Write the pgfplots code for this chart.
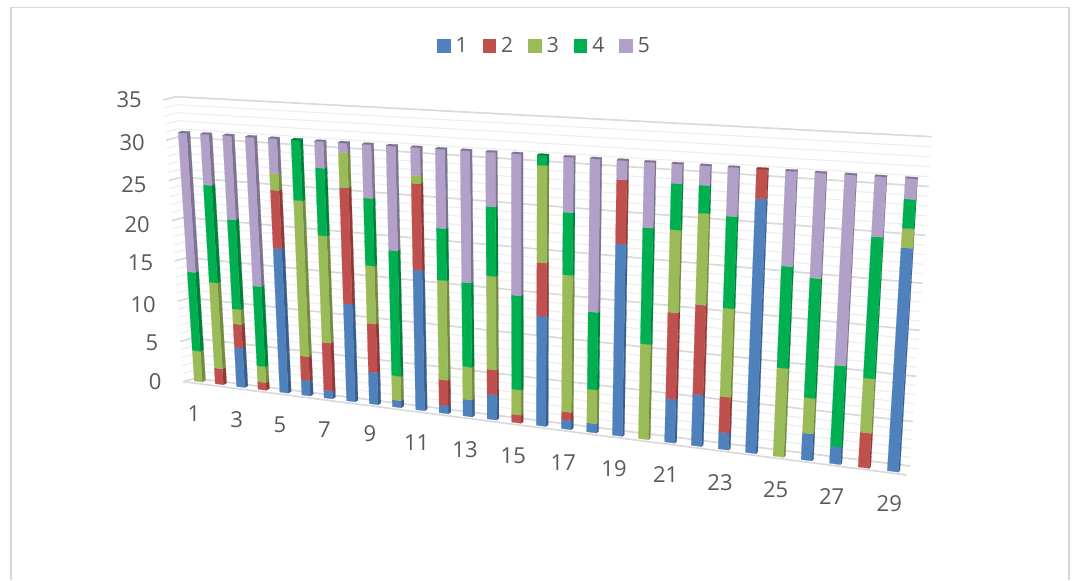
\documentclass[border=0pt]{standalone}
\usepackage{fontspec}
\setmainfont{Open Sans}
\usepackage{pgfplots}
\usepackage{pgfplotstable}
\pgfplotsset{compat=1.18}

\definecolor{s1}{HTML}{4F81BD}\definecolor{d1}{HTML}{395E8C}
\definecolor{s2}{HTML}{C0504D}\definecolor{d2}{HTML}{8E3A38}
\definecolor{s3}{HTML}{9BBB59}\definecolor{d3}{HTML}{748C42}
\definecolor{s4}{HTML}{00B050}\definecolor{d4}{HTML}{00803A}
\definecolor{s5}{HTML}{B1A0C7}\definecolor{d5}{HTML}{7F7391}
\definecolor{txt}{HTML}{595959}
\definecolor{grid}{HTML}{D9D9D9}
\definecolor{gridl}{HTML}{EDEDED}

% stacked values per category
\pgfplotstableread{
cat a b c d e
1 0 0 3.7 9.5 16.8
2 0 1.9 10.3 11.7 6.1
3 4.7 2.8 1.8 10.7 10
4 0 0.9 1.9 9.5 17.7
5 17 6.9 2 0 4.1
6 1.8 2.8 18.3 7.1 0
7 0.9 5.6 12.5 7.9 3.1
8 11.3 13.5 4.1 0 1.1
9 3.7 5.6 6.7 7.8 6.2
10 0.8 0 2.8 14.4 12
11 16 9.9 0.9 0 3.2
12 0.9 2.9 11.3 5.9 9
13 1.9 0 3.7 9.5 14.9
14 2.8 2.8 10.5 7.8 6.1
15 0 0.9 2.8 10.5 15.8
16 12.2 5.9 10.8 1.1 0
17 1 0.9 15.1 6.9 6.1
18 1 0 3.7 8.5 16.8
19 20.9 7 0 0 2.1
20 0 0 10.3 12.6 7.1
21 4.7 9.3 8.9 5 2.1
22 5.5 9.6 9.8 3 2.1
23 1.8 3.8 9.4 9.8 5.2
24 26.9 3.1 0 0 0
25 0 0 9.3 10.7 10
26 2.8 0 3.7 12.5 11
27 1.8 0 0 8.4 19.8
28 0 3.6 5.6 14.6 6.2
29 22.9 0 2 3 2.1
}\bardata

% picture position of a bar point: #1 category position, #2 stacked value
\newcommand\project[2]{%
  \pgfmathsetmacro\uu{(#1-1)/28}%
  \pgfmathsetmacro\ss{0.845*\uu/(1-0.155*\uu)}%
  \pgfmathsetmacro\ff{#2/30}%
  \pgfmathsetmacro\bx{194.3+693*\ss}%
  \pgfmathsetmacro\by{381+89.7*\ss}%
  \pgfmathsetmacro\tx{178.3+727*\ss}%
  \pgfmathsetmacro\ty{132.7+45.6*\ss}%
  \pgfmathsetmacro\px{\bx+(\tx-\bx)*\ff}%
  \pgfmathsetmacro\py{\by+(\ty-\by)*\ff}%
  \pgfmathsetmacro\ox{(3.3-1.8*\uu)+0.8*\uu*(-1)*\ff}%
  \pgfmathsetmacro\qx{\px+\ox}%
  \pgfmathsetmacro\qy{\py-1.7}%
}

% back wall gridline at value #1
\newcommand\gridline[2]{%
  \pgfmathsetmacro\gz{#1/35}%
  \pgfmathsetmacro\gf{\gz*0.9356/(1-0.0644*\gz)}%
  \pgfmathsetmacro\ax{183.3-20*\gz}\pgfmathsetmacro\ay{381.7-281.7*\gz}%
  \pgfmathsetmacro\bx{195-19*\gz}\pgfmathsetmacro\by{378.3-281.6*\gz}%
  \pgfmathsetmacro\cx{910+21.7*\gz}\pgfmathsetmacro\cy{466-329.3*\gf}%
  \edef\temp{\noexpand\addplot[#2,forget plot] coordinates {(\ax,\ay) (\bx,\by) (\cx,\cy)};}\temp
}

\begin{document}
\begin{tikzpicture}
\begin{axis}[
    scale only axis,
    width=1072pt, height=580pt,
    xmin=0, xmax=1072, ymin=0, ymax=580,
    y dir=reverse,
    hide axis,
    clip=false,
    legend columns=-1,
    legend style={at={(axis cs:544.5,46)}, anchor=center, draw=none, fill=none,
        font=\fontsize{21}{25}\selectfont, text=txt, inner sep=0pt,
        /tikz/every even column/.append style={column sep=13pt},
        /tikz/every odd column/.append style={column sep=3pt}},
    legend image code/.code={\fill[draw=none,#1] (0pt,-6.8pt) rectangle (13.5pt,6.8pt);},
]
% page extent
\addplot[draw=none, forget plot] coordinates {(0,0) (1072,580)};
% chart frame
\addplot[color=grid, line width=1.5pt, forget plot] coordinates {(11,580) (11,7.5) (1069,7.5) (1069,580)};

% gridlines
\pgfplotsforeachungrouped \z in {0,...,35}{\gridline{\z}{color=gridl, line width=1.1pt}}
\pgfplotsforeachungrouped \z in {0,5,...,35}{\gridline{\z}{color=grid, line width=1.6pt}}
\addplot[color=grid, line width=1.6pt, forget plot] coordinates {(183.3,381.7) (906.7,475)};

% bars
\pgfplotsforeachungrouped \r in {0,...,28}{%
  \pgfmathsetmacro\tl{\r+1}%
  \pgfmathsetmacro\tr{\r+1.38}%
  \def\zlow{0}%
  \pgfplotsforeachungrouped \c in {1,...,5}{%
    \pgfplotstablegetelem{\r}{[index]\c}\of\bardata
    \let\val\pgfplotsretval
    \ifdim\val pt>0pt
      \pgfmathsetmacro\zhigh{\zlow+\val}%
      \project{\tl}{\zlow}\let\ax\px\let\ay\py
      \project{\tr}{\zlow}\let\bbx\px\let\bby\py\let\bqx\qx\let\bqy\qy
      \project{\tr}{\zhigh}\let\ccx\px\let\ccy\py\let\cqx\qx\let\cqy\qy
      \project{\tl}{\zhigh}\let\ddx\px\let\ddy\py\let\dqx\qx\let\dqy\qy
      \edef\temp{\noexpand\addplot[fill=d\c,draw=d\c,line width=0.2pt,forget plot] coordinates {(\bbx,\bby) (\bqx,\bqy) (\cqx,\cqy) (\ccx,\ccy)} -- cycle;
        \noexpand\addplot[fill=s\c,draw=s\c,line width=0.2pt,forget plot] coordinates {(\ax,\ay) (\bbx,\bby) (\ccx,\ccy) (\ddx,\ddy)} -- cycle;}\temp
      \let\zlow\zhigh
      \let\lastc\c
    \fi
  }%
  \edef\temp{\noexpand\addplot[fill=d\lastc,draw=d\lastc,line width=0.2pt,forget plot] coordinates {(\ddx,\ddy) (\ccx,\ccy) (\cqx,\cqy) (\dqx,\dqy)} -- cycle;}\temp
}

\addlegendimage{fill=s1}\addlegendentry{1}
\addlegendimage{fill=s2}\addlegendentry{2}
\addlegendimage{fill=s3}\addlegendentry{3}
\addlegendimage{fill=s4}\addlegendentry{4}
\addlegendimage{fill=s5}\addlegendentry{5}

% value labels on the wall
\begin{scope}[every node/.style={font=\fontsize{22}{26}\selectfont, text=txt, inner sep=0pt}]
\node[anchor=east] at (axis cs:161.7,381.7) {0};
\node[anchor=east] at (axis cs:158.3,343) {5};
\node[anchor=east] at (axis cs:156,305) {10};
\node[anchor=east] at (axis cs:153.3,263) {15};
\node[anchor=east] at (axis cs:150,225) {20};
\node[anchor=east] at (axis cs:146.7,185) {25};
\node[anchor=east] at (axis cs:145,143) {30};
\node[anchor=east] at (axis cs:142,100) {35};
\node at (axis cs:194,414) {1};
\node at (axis cs:236.7,420) {3};
\node at (axis cs:280,425) {5};
\node at (axis cs:324.3,430) {7};
\node at (axis cs:370,433.3) {9};
\node at (axis cs:416.7,442.7) {11};
\node at (axis cs:465,449.3) {13};
\node at (axis cs:513.3,456) {15};
\node at (axis cs:563.3,462.3) {17};
\node at (axis cs:614,468.3) {19};
\node at (axis cs:665.7,475) {21};
\node at (axis cs:720,482.3) {23};
\node at (axis cs:775.7,490) {25};
\node at (axis cs:831.7,496.7) {27};
\node at (axis cs:889.3,504) {29};
\end{scope}
\end{axis}
\end{tikzpicture}
\end{document}
